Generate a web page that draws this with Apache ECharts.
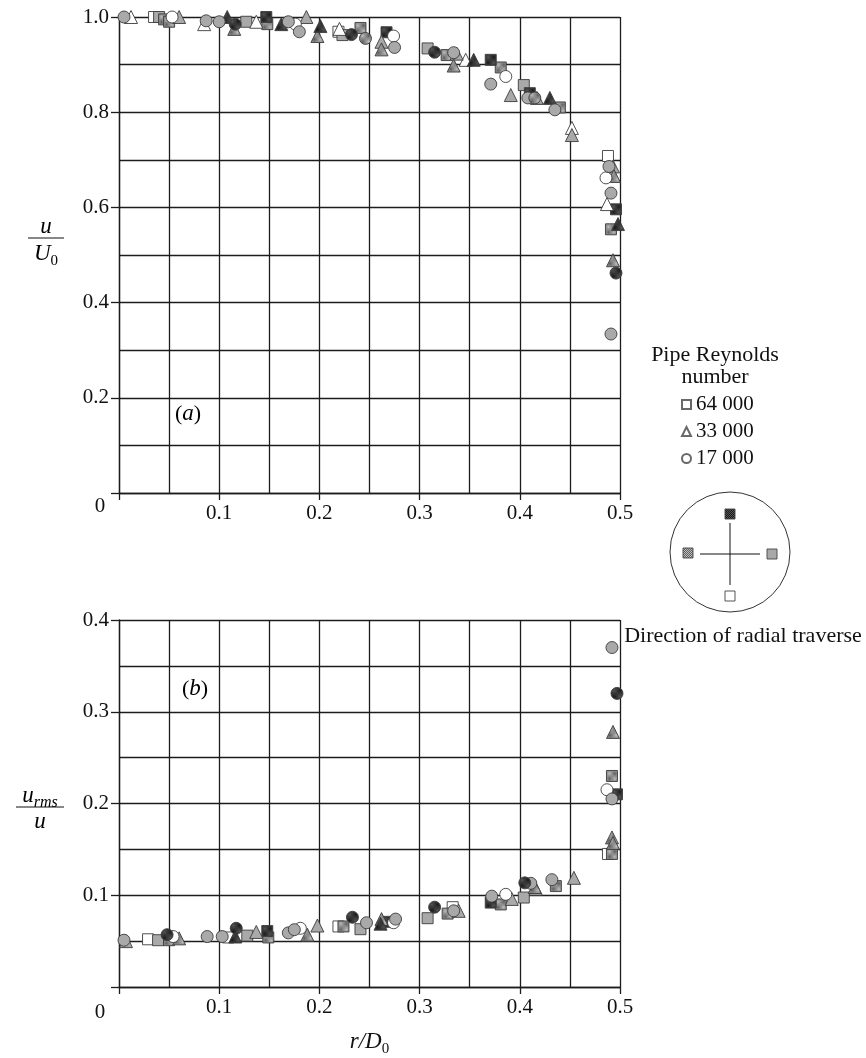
<!DOCTYPE html>
<html>
<head>
<meta charset="utf-8">
<script src="https://cdn.jsdelivr.net/npm/echarts@6/dist/echarts.min.js"></script>
<style>
html,body{margin:0;padding:0;background:#fff;}
#chart{width:866px;height:1058px;}
</style>
</head>
<body>
<div id="chart"></div>
<script>
// ---------- tick labels ----------
const xTickLabels = ['', '0.1', '0.2', '0.3', '0.4', '0.5'];
const yTickLabelsA = ['', '0.2', '0.4', '0.6', '0.8', '1.0'];
const yTickLabelsB = ['', '0.1', '0.2', '0.3', '0.4'];
const legendNames = ['64 000', '33 000', '17 000'];

// ---------- (a) u/U0 ----------  fill: top=dark, left=checkered, right=light grey, bottom=white
const sqBottomA = [[0.035,1.0],[0.219,0.969],[0.488,0.708]];
const sqRightA  = [[0.040,1.0],[0.127,0.99],[0.223,0.962],[0.308,0.934],[0.404,0.857]];
const sqLeftA   = [[0.045,0.995],[0.050,0.99],[0.148,0.985],[0.241,0.977],[0.327,0.92],[0.381,0.894],[0.440,0.81],[0.491,0.554]];
const sqTopA    = [[0.147,1.0],[0.267,0.968],[0.371,0.91],[0.410,0.84],[0.496,0.596]];
const triBottomA = [[0.012,1.0],[0.085,0.985],[0.137,0.99],[0.220,0.975],[0.346,0.91],[0.452,0.767],[0.487,0.607]];
const triRightA  = [[0.060,1.0],[0.187,1.0],[0.262,0.948],[0.337,0.923],[0.391,0.836],[0.452,0.752],[0.493,0.686]];
const triLeftA   = [[0.115,0.975],[0.198,0.96],[0.262,0.932],[0.334,0.898],[0.417,0.83],[0.494,0.666],[0.493,0.489]];
const triTopA    = [[0.108,1.0],[0.162,0.985],[0.201,0.981],[0.354,0.91],[0.430,0.83],[0.498,0.565]];
const cirBottomA = [[0.053,1.0],[0.176,0.985],[0.274,0.96],[0.386,0.875],[0.486,0.662]];
const cirRightA  = [[0.005,1.0],[0.087,0.992],[0.100,0.99],[0.169,0.99],[0.180,0.969],[0.275,0.936],[0.334,0.925],[0.371,0.859],[0.408,0.83],[0.435,0.805],[0.489,0.686],[0.491,0.63],[0.491,0.334]];
const cirLeftA   = [[0.246,0.955],[0.415,0.83]];
const cirTopA    = [[0.116,0.985],[0.232,0.963],[0.315,0.926],[0.496,0.462]];

// ---------- (b) urms/u ----------
const sqBottomB = [[0.029,0.052],[0.109,0.054],[0.219,0.066],[0.333,0.087],[0.488,0.145]];
const sqRightB  = [[0.039,0.051],[0.128,0.056],[0.241,0.063],[0.308,0.075],[0.404,0.0975]];
const sqLeftB   = [[0.050,0.051],[0.149,0.054],[0.224,0.066],[0.328,0.08],[0.381,0.09],[0.436,0.11],[0.492,0.145],[0.492,0.23]];
const sqTopB    = [[0.148,0.061],[0.268,0.071],[0.371,0.092],[0.497,0.21]];
const triBottomB = [];
const triRightB  = [[0.007,0.05],[0.137,0.06],[0.198,0.067],[0.339,0.083],[0.392,0.096],[0.416,0.107],[0.454,0.119]];
const triLeftB   = [[0.060,0.053],[0.188,0.057],[0.262,0.074],[0.415,0.109],[0.492,0.163],[0.493,0.157],[0.493,0.278]];
const triTopB    = [[0.116,0.055],[0.261,0.069]];
const cirBottomB = [[0.054,0.055],[0.181,0.064],[0.274,0.07],[0.386,0.101],[0.487,0.215]];
const cirRightB  = [[0.005,0.051],[0.088,0.055],[0.103,0.055],[0.169,0.059],[0.175,0.0625],[0.247,0.07],[0.276,0.074],[0.334,0.083],[0.372,0.099],[0.411,0.113],[0.432,0.117],[0.492,0.37],[0.492,0.205]];
const cirLeftB   = [];
const cirTopB    = [[0.048,0.057],[0.117,0.064],[0.233,0.076],[0.315,0.087],[0.405,0.1135],[0.497,0.32]];

// ---------- styling ----------
const FONT = '"Liberation Serif","Times New Roman","DejaVu Serif",serif';
const LINE = '#1c1c1c';
function checker(c1, c2) {
  const cv = document.createElement('canvas');
  cv.width = 2; cv.height = 2;
  const g = cv.getContext('2d');
  g.fillStyle = c1; g.fillRect(0, 0, 2, 2);
  g.fillStyle = c2; g.fillRect(0, 0, 1, 1); g.fillRect(1, 1, 1, 1);
  return { image: cv, repeat: 'repeat' };
}
const FILLS = {
  top: checker('#1a1a1a', '#555555'),
  left: checker('#5e5e5e', '#bdbdbd'),
  right: '#a9a9a9',
  bottom: '#ffffff'
};
const SHAPES = {
  sq: { symbol: 'rect', size: 11 },
  tri: { symbol: 'triangle', size: 13 },
  cir: { symbol: 'circle', size: 12 }
};
const dataSets = [
  [sqBottomA,'sq','bottom',0],[sqRightA,'sq','right',0],[sqLeftA,'sq','left',0],[sqTopA,'sq','top',0],
  [triBottomA,'tri','bottom',0],[triRightA,'tri','right',0],[triLeftA,'tri','left',0],[triTopA,'tri','top',0],
  [cirBottomA,'cir','bottom',0],[cirRightA,'cir','right',0],[cirLeftA,'cir','left',0],[cirTopA,'cir','top',0],
  [sqBottomB,'sq','bottom',1],[sqRightB,'sq','right',1],[sqLeftB,'sq','left',1],[sqTopB,'sq','top',1],
  [triBottomB,'tri','bottom',1],[triRightB,'tri','right',1],[triLeftB,'tri','left',1],[triTopB,'tri','top',1],
  [cirBottomB,'cir','bottom',1],[cirRightB,'cir','right',1],[cirLeftB,'cir','left',1],[cirTopB,'cir','top',1]
];
const series = dataSets.map(([d, sh, f, p]) => ({
  type: 'scatter', xAxisIndex: p, yAxisIndex: p,
  symbol: SHAPES[sh].symbol, symbolSize: SHAPES[sh].size,
  data: d, z: 5, silent: true,
  itemStyle: { color: FILLS[f], borderColor: '#3c3c3c', borderWidth: 0.9, opacity: 1 }
}));
['rect','triangle','circle'].forEach((s, i) => series.push({
  type: 'scatter', name: legendNames[i], xAxisIndex: 0, yAxisIndex: 0, data: [], symbol: s,
  itemStyle: { color: '#fff', borderColor: '#444', borderWidth: 0.9 }
}));

const lineStyle = { color: LINE, width: 1.3 };
function xAxis(gi, extra) {
  return Object.assign({
    gridIndex: gi, type: 'value', min: 0, max: 0.5, interval: 0.1,
    axisLine: { show: true, onZero: false, lineStyle },
    axisTick: { show: true, inside: false, length: 7, lineStyle },
    axisLabel: { margin: 10, fontFamily: FONT, fontSize: 21, color: '#111',
      formatter: v => xTickLabels[Math.round(v * 10)] },
    splitLine: { show: true, lineStyle },
    minorTick: { show: false, splitNumber: 2 },
    minorSplitLine: { show: true, lineStyle }
  }, extra || {});
}
function yAxis(gi, max, interval, labels) {
  return {
    gridIndex: gi, type: 'value', min: 0, max: max, interval: interval,
    axisLine: { show: true, onZero: false, lineStyle },
    axisTick: { show: true, inside: false, length: 8, lineStyle },
    axisLabel: { margin: 10, fontFamily: FONT, fontSize: 21, color: '#111',
      formatter: v => labels[Math.round(v / interval)] },
    splitLine: { show: true, lineStyle },
    minorTick: { show: false, splitNumber: 2 },
    minorSplitLine: { show: true, lineStyle }
  };
}

const txt = (x, y, text, size, extra) => ({
  type: 'text', x: x, y: y, z: 10,
  style: Object.assign({ text: text, font: size + 'px ' + FONT, fill: '#111',
    align: 'center', verticalAlign: 'middle', textAlign: 'center', textVerticalAlign: 'middle' }, extra || {})
});
const RICH = {
  i: { fontFamily: FONT, fontStyle: 'italic', fontSize: 23, color: '#111', lineHeight: 24, verticalAlign: 'bottom' },
  n: { fontFamily: FONT, fontSize: 22, color: '#111', lineHeight: 24, verticalAlign: 'bottom' },
  s: { fontFamily: FONT, fontSize: 15, color: '#111', lineHeight: 14, verticalAlign: 'bottom', padding: [0, 0, -4, 0] },
  si: { fontFamily: FONT, fontStyle: 'italic', fontSize: 16, color: '#111', lineHeight: 14, verticalAlign: 'bottom', padding: [0, 0, -4, 0] }
};
const richTxt = (x, y, text) => ({
  type: 'text', x: x, y: y, z: 10,
  style: { text: text, rich: RICH, align: 'center', verticalAlign: 'middle', textAlign: 'center', textVerticalAlign: 'middle' }
});
const hline = (x1, x2, y, w) => ({ type: 'line', z: 10, shape: { x1: x1, y1: y, x2: x2, y2: y }, style: { stroke: '#111', lineWidth: w || 1 } });
const vline = (x, y1, y2, w) => ({ type: 'line', z: 10, shape: { x1: x, y1: y1, x2: x, y2: y2 }, style: { stroke: '#111', lineWidth: w || 1 } });
const sqr = (cx, cy, fill) => ({ type: 'rect', z: 10, shape: { x: cx - 5, y: cy - 5, width: 10, height: 10 },
  style: { fill: fill, stroke: '#444', lineWidth: 0.9 } });

const option = {
  animation: false,
  backgroundColor: '#fff',
  grid: [
    { left: 119, top: 17, width: 501, height: 476 },
    { left: 119, top: 620, width: 501, height: 375 }
  ],
  xAxis: [
    xAxis(0),
    xAxis(1, { name: '{i|r/D}{s|0}', nameLocation: 'middle', nameGap: 42,
      nameTextStyle: { rich: RICH } })
  ],
  yAxis: [
    yAxis(0, 1.0, 0.2, yTickLabelsA),
    yAxis(1, 0.4, 0.1, yTickLabelsB)
  ],
  legend: {
    orient: 'vertical', left: 676, top: 389, itemWidth: 9, itemHeight: 9, itemGap: 6,
    data: legendNames, selectedMode: false,
    textStyle: { fontFamily: FONT, fontSize: 21, color: '#111' }
  },
  graphic: [
    txt(100, 506, '0', 21),
    txt(100, 1012, '0', 21),
    // y-axis names
    richTxt(46, 226, '{i|u}'),
    hline(28, 64, 238, 1),
    richTxt(46, 253, '{i|U}{s|0}'),
    richTxt(40, 795, '{i|u}{si|rms}'),
    hline(16, 64, 807, 1),
    richTxt(40, 821, '{i|u}'),
    // panel letters
    richTxt(188, 413, '{n|(}{i|a}{n|)}'),
    richTxt(195, 688, '{n|(}{i|b}{n|)}'),
    // legend title
    txt(715, 355, 'Pipe Reynolds', 22),
    txt(715, 377, 'number', 22),
    // traverse diagram
    { type: 'circle', z: 10, shape: { cx: 730, cy: 552, r: 60 }, style: { fill: 'none', stroke: '#333', lineWidth: 1 } },
    vline(730, 523, 585, 1),
    hline(700, 760, 554, 1),
    sqr(730, 514, FILLS.top),
    sqr(688, 553, FILLS.left),
    sqr(772, 554, FILLS.right),
    sqr(730, 596, FILLS.bottom),
    txt(743, 636, 'Direction of radial traverse', 22)
  ],
  series: series
};
const chart = echarts.init(document.getElementById('chart'), null, { renderer: 'canvas' });
chart.setOption(option);
</script>
</body>
</html>
